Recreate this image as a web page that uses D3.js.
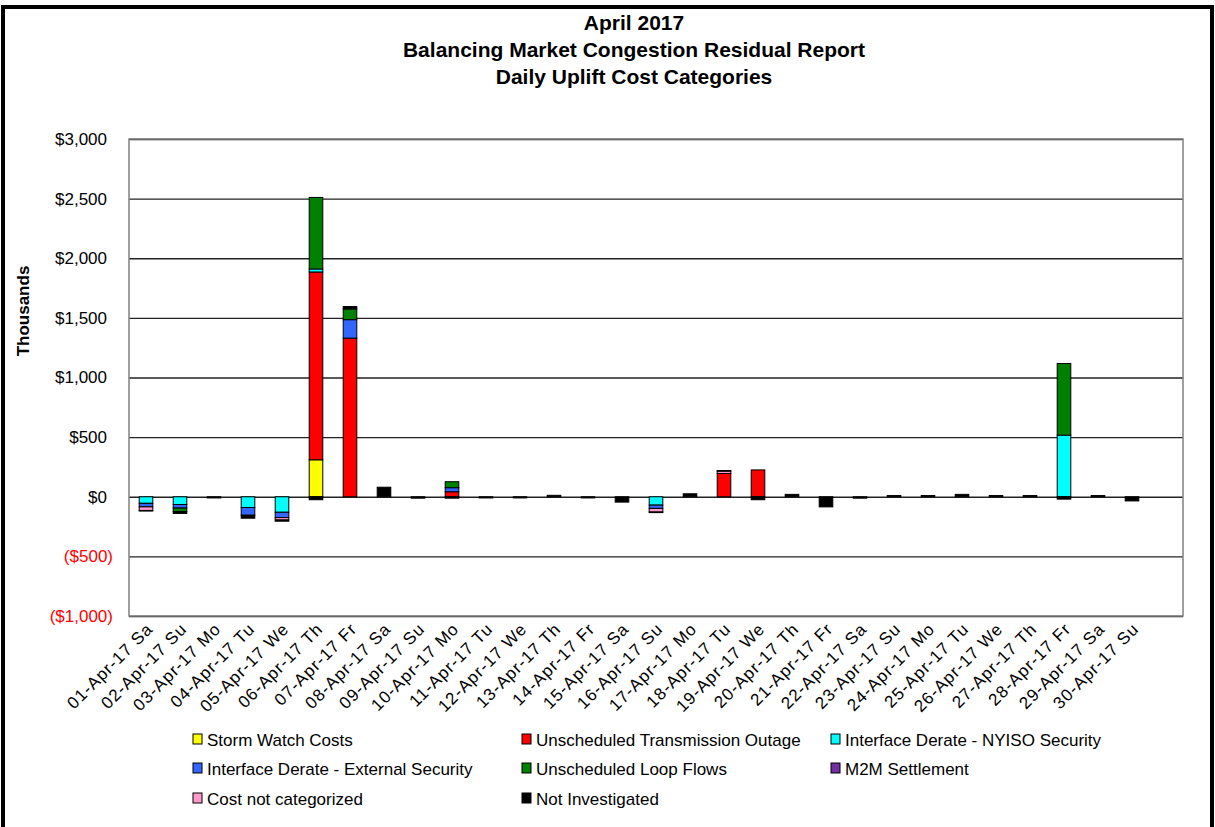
<!DOCTYPE html>
<html lang="en">
<head>
  <meta charset="UTF-8">
  <title>Daily Uplift Cost Categories</title>
  <style>
    * { padding: 0; margin: 0; }
    html, body { width: 1215px; height: 827px; overflow: hidden; background: #fff; }
    text { font-family: Arial, "Liberation Sans", sans-serif; }
  </style>
</head>
<body>
  <script src="https://cdn.jsdelivr.net/npm/d3@7"></script>
  <script>
    // categories (one empty slot at the end, as in the original chart)
    const days = ['01-Apr-17 Sa', '02-Apr-17 Su', '03-Apr-17 Mo', '04-Apr-17 Tu', '05-Apr-17 We', '06-Apr-17 Th',
      '07-Apr-17 Fr', '08-Apr-17 Sa', '09-Apr-17 Su', '10-Apr-17 Mo', '11-Apr-17 Tu', '12-Apr-17 We',
      '13-Apr-17 Th', '14-Apr-17 Fr', '15-Apr-17 Sa', '16-Apr-17 Su', '17-Apr-17 Mo', '18-Apr-17 Tu',
      '19-Apr-17 We', '20-Apr-17 Th', '21-Apr-17 Fr', '22-Apr-17 Sa', '23-Apr-17 Su', '24-Apr-17 Mo',
      '25-Apr-17 Tu', '26-Apr-17 We', '27-Apr-17 Th', '28-Apr-17 Fr', '29-Apr-17 Sa', '30-Apr-17 Su']

    // values in $ thousands
    const stormWatch = [0, 0, 0, 0, 0, 310, 0, 0, 0, 0, 0, 0, 0, 0, 0, 0, 0, 0, 0, 0, 0, 0, 0, 0, 0, 0, 0, 0, 0, 0]
    const transOutage = [0, 0, 0, 0, 0, 1575, 1330, 0, 0, 42, 0, 0, 0, 0, 0, 0, 0, 195, 225, 0, 0, 0, 0, 0, 0, 0, 0, 0, 0, 0]
    const nyisoSecurity = [-55, -65, 0, -90, -130, 25, 0, 0, 0, 0, 0, 0, 0, 0, 0, -70, 0, 0, 0, 0, 0, 0, 0, 0, 0, 0, 0, 517, 0, 0]
    const externalSecurity = [-30, -30, 0, -65, -45, 0, 155, 0, 0, 34, 0, 0, 0, 0, 0, -28, 0, 0, 0, 0, 0, 0, 0, 0, 0, 0, 0, 0, 0, 0]
    const loopFlows = [0, -30, 0, 0, 0, 600, 90, 0, 0, 50, 0, 0, 0, 0, 0, 0, 0, 0, 0, 0, 0, 0, 0, 0, 0, 0, 0, 600, 0, 0]
    const m2mSettlement = [0, 0, 0, 0, 0, 0, 0, 0, 0, 0, 0, 0, 0, 0, 0, 0, 0, 0, 0, 0, 0, 0, 0, 0, 0, 0, 0, 0, 0, 0]
    const notCategorized = [-30, 0, 0, 0, -20, 0, 0, 0, 0, 0, 0, 0, 0, 0, 0, -30, 0, 20, 0, 0, 0, 0, 0, 0, 0, 0, 0, 0, 0, 0]
    const notInvestigated = [-5, -15, -10, -25, -10, -25, 20, 80, -12, -12, -10, -10, 12, -10, -45, -5, 25, 5, -25, 20, -85, -12, 10, 10, 20, 10, 10, -20, 10, -35]

    const seriesNames = ['Storm Watch Costs', 'Unscheduled Transmission Outage', 'Interface Derate - NYISO Security',
      'Interface Derate - External Security', 'Unscheduled Loop Flows', 'M2M Settlement',
      'Cost not categorized', 'Not Investigated']
    const seriesValues = [stormWatch, transOutage, nyisoSecurity, externalSecurity, loopFlows, m2mSettlement, notCategorized, notInvestigated]
    const seriesColors = ['#ffff00', '#ff0000', '#00ffff', '#3366ff', '#008000', '#7030a0', '#ff99cc', '#000000']

    const yTicks = [-1000, -500, 0, 500, 1000, 1500, 2000, 2500, 3000]
    const titleLines = ['April 2017', 'Balancing Market Congestion Residual Report', 'Daily Uplift Cost Categories']

    const W = 1215, H = 827
    const plot = { left: 129, top: 139, right: 1183, bottom: 616 }

    const svg = d3.select('body').append('svg').attr('width', W).attr('height', H)

    // outer frame
    svg.append('rect').attr('x', 3).attr('y', 7).attr('width', W - 6).attr('height', H + 10)
      .attr('fill', '#fff').attr('stroke', '#000').attr('stroke-width', 4)

    // 标题
    svg.append('g').selectAll('text').data(titleLines).join('text')
      .attr('x', 634).attr('y', (d, i) => 30 + i * 27)
      .attr('text-anchor', 'middle').style('font-size', '21px').style('font-weight', 'bold')
      .text(d => d)

    const slots = days.concat([''])
    const x = d3.scaleBand().domain(slots).range([plot.left, plot.right]).paddingInner(0.6).paddingOuter(0.3)
    const y = d3.scaleLinear().domain([-1000, 3000]).range([plot.bottom, plot.top])

    // 网格线
    svg.append('g').attr('class', 'grid')
      .attr('transform', `translate(${plot.left},0)`)
      .call(d3.axisLeft(y).tickValues(yTicks).tickSize(-(plot.right - plot.left)).tickFormat(''))
      .call(g => g.select('.domain').remove())
      .call(g => g.selectAll('line').attr('stroke', '#222').attr('stroke-width', 1.3))

    // plot border
    svg.append('rect').attr('x', plot.left).attr('y', plot.top)
      .attr('width', plot.right - plot.left).attr('height', plot.bottom - plot.top)
      .attr('fill', 'none').attr('stroke', '#808080').attr('stroke-width', 1.5)

    // y axis labels (negatives shifted right, like Excel's "_)" padding)
    const money = d3.format(',')
    svg.append('g').attr('transform', `translate(${plot.left},0)`)
      .call(d3.axisLeft(y).tickValues(yTicks).tickSize(0).tickPadding(22)
        .tickFormat(v => v < 0 ? `($${money(-v)})` : `$${money(v)}`))
      .call(g => g.select('.domain').remove())
      .call(g => g.selectAll('text').style('font-size', '17px').style('font-family', 'Arial, "Liberation Sans", sans-serif')
        .attr('dx', d => d < 0 ? 6 : 0)
        .attr('fill', d => d < 0 ? '#ff0000' : '#000'))

    svg.append('text').attr('transform', 'translate(29,311) rotate(-90)')
      .attr('text-anchor', 'middle').style('font-size', '17px').style('font-weight', 'bold')
      .text('Thousands')

    // 堆叠数据
    const rows = days.map((d, i) => {
      const r = { day: d }
      seriesNames.forEach((s, k) => { r[s] = seriesValues[k][i] })
      return r
    })
    const stacked = d3.stack().keys(seriesNames).offset(d3.stackOffsetDiverging)(rows)

    const bars = svg.append('g')
    stacked.forEach((layer, k) => {
      bars.append('g').attr('fill', seriesColors[k])
        .selectAll('rect').data(layer.filter(d => d[1] !== d[0])).join('rect')
        .attr('x', d => x(d.data.day))
        .attr('width', x.bandwidth())
        .attr('y', d => y(Math.max(d[0], d[1])))
        .attr('height', d => Math.abs(y(d[0]) - y(d[1])))
        .attr('stroke', '#000').attr('stroke-width', 1)
    })

    // x axis labels
    svg.append('g').attr('transform', `translate(0,${plot.bottom})`)
      .call(d3.axisBottom(x).tickSize(0).tickFormat(d => d))
      .call(g => g.select('.domain').remove())
      .call(g => g.selectAll('text')
        .style('font-size', '17px').style('font-family', 'Arial, "Liberation Sans", sans-serif')
        .style('letter-spacing', '1px')
        .attr('text-anchor', 'end').attr('dy', 0).attr('y', 0)
        .attr('transform', 'translate(8,14) rotate(-45)'))

    // 图例
    const legendPos = [[193, 746], [522, 746], [831, 746], [193, 775], [522, 775], [831, 775], [193, 805], [522, 805]]
    const legend = svg.append('g').selectAll('g').data(seriesNames).join('g')
      .attr('transform', (d, i) => `translate(${legendPos[i][0]},${legendPos[i][1]})`)
    legend.append('rect').attr('x', 0).attr('y', -12).attr('width', 9).attr('height', 10)
      .attr('fill', (d, i) => seriesColors[i]).attr('stroke', '#000').attr('stroke-width', 1)
    legend.append('text').attr('x', 14).attr('y', 0).style('font-size', '17px').text(d => d)
  </script>
</body>
</html>
